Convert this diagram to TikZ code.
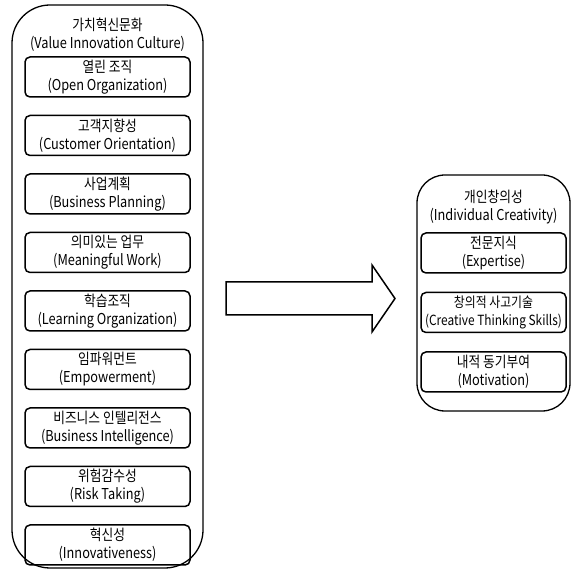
\documentclass[tikz,border=0pt]{standalone}
\usepackage{fontspec}
\setmainfont[FakeStretch=0.85]{Noto Sans CJK KR}
\usepackage{tikz}
\usetikzlibrary{positioning}

\begin{document}
\begin{tikzpicture}[x=1pt,y=1pt,every node/.style={font=\fontsize{15}{18}\selectfont,align=center,inner sep=0pt},
  outerbox/.style={draw,line width=1.3pt,rounded corners=#1},
  itembox/.style={draw,line width=1.5pt,rounded corners=5pt,minimum height=40pt}]
\useasboundingbox (0,0) rectangle (573,570);
% value innovation culture
\node[outerbox=38pt,minimum width=191pt,minimum height=563pt] (vic) at (107.5,283.5) {};
\node (vict) at (107.5,535) {가치혁신문화\\(Value Innovation Culture)};
\node[itembox,minimum width=165pt] (v1) at (107.5,493) {열린 조직\\(Open Organization)};
\node[itembox,minimum width=165pt,below=17pt of v1] (v2) {고객지향성\\(Customer Orientation)};
\node[itembox,minimum width=165pt,below=17pt of v2] (v3) {사업계획\\(Business Planning)};
\node[itembox,minimum width=165pt,below=17pt of v3] (v4) {의미있는 업무\\(Meaningful Work)};
\node[itembox,minimum width=165pt,below=17pt of v4] (v5) {학습조직\\(Learning Organization)};
\node[itembox,minimum width=165pt,below=17pt of v5] (v6) {임파워먼트\\(Empowerment)};
\node[itembox,minimum width=165pt,below=17pt of v6] (v7) {비즈니스 인텔리전스\\(Business Intelligence)};
\node[itembox,minimum width=165pt,below=17pt of v7] (v8) {위험감수성\\(Risk Taking)};
\node[itembox,minimum width=165pt,below=17pt of v8] (v9) {혁신성\\(Innovativeness)};
% big arrow
\draw[line width=1.5pt,line join=miter] (226,288) -- (372,288) -- (372,305) -- (395,271.5) -- (372,238) -- (372,255) -- (226,255) -- cycle;
% individual creativity
\node[outerbox=28pt,minimum width=153pt,minimum height=236pt] (ic) at (493.5,277) {};
\node (ict) at (493.5,363) {개인창의성\\(Individual Creativity)};
\node[itembox,minimum width=145pt] (c1) at (493.5,317) {전문지식\\(Expertise)};
\node[itembox,minimum width=145pt,below=18pt of c1,font=\fontsize{14}{18}\selectfont] (c2) {창의적 사고기술\\(Creative Thinking Skills)};
\node[itembox,minimum width=145pt,below=18pt of c2] (c3) {내적 동기부여\\(Motivation)};
\end{tikzpicture}
\end{document}
